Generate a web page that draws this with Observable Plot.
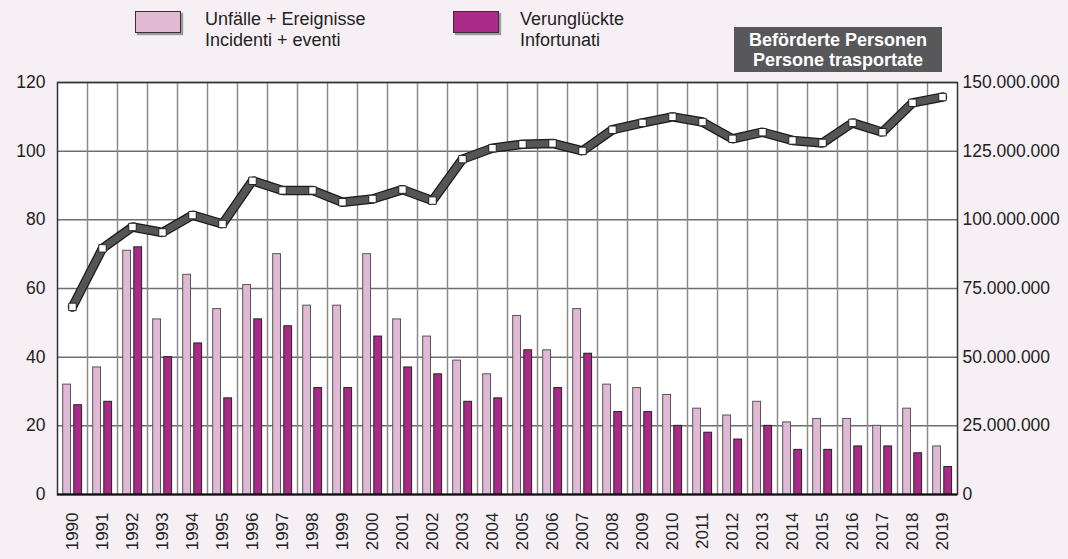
<!DOCTYPE html>
<html>
<head>
<meta charset="utf-8">
<script src="https://cdn.jsdelivr.net/npm/d3@7"></script>
<script src="https://cdn.jsdelivr.net/npm/@observablehq/plot@0.6"></script>
<style>
  html, body { margin: 0; padding: 0; background: #f6f0f5; }
  body { width: 1068px; height: 559px; overflow: hidden; font-family: "Liberation Sans", Arial, sans-serif; }
  #head { position: relative; height: 70px; }
  .sw { position: absolute; width: 44px; height: 20px; border: 1px solid #333; box-shadow: 2px 2px 1px #9a9a9a; }
  .lt { position: absolute; font-size: 18px; line-height: 21px; color: #222; }
  #box { position: absolute; left: 734px; top: 27px; width: 208px; height: 45px; background: #58585a; color: #fff;
         font-weight: bold; font-size: 18px; line-height: 20px; text-align: center; padding-top: 3px; box-sizing: border-box; }
</style>
</head>
<body>
<div id="head"></div>
<div id="chart"></div>
<script>
const years = [1990,1991,1992,1993,1994,1995,1996,1997,1998,1999,2000,2001,2002,2003,2004,2005,2006,2007,2008,2009,2010,2011,2012,2013,2014,2015,2016,2017,2018,2019];
const incidents = [32,37,71,51,64,54,61,70,55,55,70,51,46,39,35,52,42,54,32,31,29,25,23,27,21,22,22,20,25,14];
const victims   = [26,27,72,40,44,28,51,49,31,31,46,37,35,27,28,42,31,41,24,24,20,18,16,20,13,13,14,14,12,8];
const passengers = [68.3e6,89.6e6,97.4e6,95.4e6,101.7e6,98.5e6,114.2e6,110.7e6,110.7e6,106.4e6,107.6e6,111.0e6,107.0e6,122.1e6,126.1e6,127.5e6,127.8e6,125.1e6,132.8e6,135.3e6,137.5e6,135.6e6,129.5e6,131.9e6,128.9e6,128.0e6,135.3e6,131.9e6,142.6e6,144.7e6];
const leftTicks = [0,20,40,60,80,100,120];
const rightTicks = [0,25e6,50e6,75e6,100e6,125e6,150e6];
const seriesNames = [["Unfälle + Ereignisse","Incidenti + eventi"],["Verunglückte","Infortunati"]];
const lineTitle = ["Beförderte Personen","Persone trasportate"];
const colors = ["#e0bad5","#aa2a8a"];

const ratio = 150e6 / 120;
const rows = years.map((y,i) => ({year:y, inc:incidents[i], vic:victims[i], pax:passengers[i]/ratio}));
const de = d3.formatLocale({decimal:",", thousands:".", grouping:[3], currency:["","€"]});
const fmt = de.format(",d");

// header legend
const head = document.getElementById("head");
const swX = [135, 453], txX = [205, 520];
seriesNames.forEach((n,i) => {
  const s = document.createElement("div"); s.className = "sw";
  s.style.left = swX[i]+"px"; s.style.top = "11px"; s.style.background = colors[i];
  head.appendChild(s);
  const t = document.createElement("div"); t.className = "lt";
  t.style.left = txX[i]+"px"; t.style.top = "9px"; t.innerHTML = n[0] + "<br>" + n[1];
  head.appendChild(t);
});
const box = document.createElement("div"); box.id = "box"; box.innerHTML = lineTitle[0] + "<br>" + lineTitle[1];
head.appendChild(box);

const plot = Plot.plot({
  width: 1068, height: 489,
  marginTop: 12, marginBottom: 65, marginLeft: 57, marginRight: 111,
  style: {background: "transparent", fontFamily: "Liberation Sans, Arial, sans-serif", color: "#222"},
  x: {type: "linear", domain: [1989.5, 2019.5], label: null},
  y: {domain: [0, 120], label: null},
  marks: [
    Plot.frame({fill: "#fff", stroke: "none"}),
    Plot.ruleY(leftTicks, {stroke: "#6e6e6e", strokeWidth: 1.5}),
    Plot.ruleX(years.slice(0,-1), {x: d => d + 0.5, stroke: "#8a8a8a", strokeWidth: 1.5}),
    Plot.rectY(rows, {x1: d => d.year - 0.31, x2: d => d.year - 0.05, y: "inc", fill: colors[0], stroke: "#555", strokeWidth: 1}),
    Plot.rectY(rows, {x1: d => d.year + 0.06, x2: d => d.year + 0.32, y: "vic", fill: colors[1], stroke: "#222", strokeWidth: 1}),
    Plot.line(rows, {x: "year", y: "pax", stroke: "#1a1a1a", strokeWidth: 9.5, strokeLinejoin: "miter"}),
    Plot.line(rows, {x: "year", y: "pax", stroke: "#555", strokeWidth: 7, strokeLinejoin: "miter"}),
    Plot.dot(rows, {x: "year", y: "pax", symbol: "square", r: 4.2, fill: "#fff", stroke: "#222", strokeWidth: 1}),
    Plot.frame({stroke: "#333", strokeWidth: 1.5}),
    Plot.axisY(leftTicks, {anchor: "left", tickSize: 0, tickPadding: 12, fontSize: 17.5, label: null, tickFormat: d => d}),
    Plot.axisY(rightTicks.map(v => v / ratio), {anchor: "right", tickSize: 0, tickPadding: 5, fontSize: 17.5, label: null, tickFormat: d => fmt(Math.round(d * ratio))}),
    Plot.axisX(years, {anchor: "bottom", tickSize: 0, tickPadding: 18, tickRotate: -90, fontSize: 17, label: null, tickFormat: d => String(d)}),
    Plot.ruleY([0], {stroke: "#111", strokeWidth: 2})
  ]
});
document.getElementById("chart").appendChild(plot);
</script>
</body>
</html>
